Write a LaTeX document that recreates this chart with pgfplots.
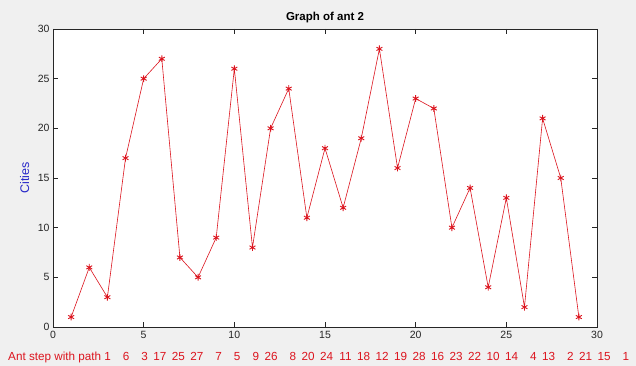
\documentclass[border=0pt]{standalone}
\usepackage{pgfplots}
\pgfplotsset{compat=1.18}
\usepackage{fontspec}
\setmainfont{Liberation Sans}
\definecolor{bggray}{RGB}{240,240,240}
\definecolor{axgray}{RGB}{38,38,38}
\definecolor{lred}{RGB}{220,20,30}
\definecolor{lblue}{RGB}{40,40,200}
\newcommand{\f}[1]{\hspace{0.47em}\makebox[1.112em][r]{#1}}
\begin{document}
\begin{tikzpicture}
\useasboundingbox (0pt,0pt) rectangle (636pt,366pt);
\fill[bggray] (0pt,0pt) rectangle (636pt,366pt);
\begin{axis}[
  at={(53pt,39pt)}, anchor=south west,
  scale only axis, width=544pt, height=298pt,
  xmin=0, xmax=30, ymin=0, ymax=30,
  xtick={0,5,...,30}, ytick={0,5,...,30},
  tick align=inside, major tick length=5pt,
  axis line style={axgray, line width=0.6pt},
  every tick/.style={axgray, line width=0.6pt},
  axis background/.style={fill=white},
  tick label style={font=\fontsize{10.5}{12}\selectfont, text=axgray},
  /pgf/number format/assume math mode=true,
  title={\bfseries Graph of ant 2},
  title style={font=\fontsize{11.5}{13}\selectfont\bfseries, at={(axis description cs:0.5,1)}, anchor=south, yshift=-3pt},
  ylabel={Cities},
  ylabel style={font=\fontsize{12.5}{14}\selectfont, text=lblue, at={(axis description cs:-0.037,0.5)}, anchor=south},
  xlabel={Ant step with path 1\f{6}\f{3}\f{17}\f{25}\f{27}\f{7}\f{5}\f{9}\f{26}\f{8}\f{20}\f{24}\f{11}\f{18}\f{12}\f{19}\f{28}\f{16}\f{23}\f{22}\f{10}\f{14}\f{4}\f{13}\f{2}\f{21}\f{15}\f{1}},
  xlabel style={font=\fontsize{11.7}{13}\selectfont, text=lred, at={(axis description cs:-0.0827,-0.114)}, anchor=base west, inner sep=0pt},
  xticklabel style={yshift=-1pt},
]
\addplot[lred, line width=0.6pt, mark=asterisk, mark size=3.4pt, mark options={line width=0.9pt}] coordinates {
(1,1) (2,6) (3,3) (4,17) (5,25) (6,27) (7,7) (8,5) (9,9) (10,26)
(11,8) (12,20) (13,24) (14,11) (15,18) (16,12) (17,19) (18,28) (19,16) (20,23)
(21,22) (22,10) (23,14) (24,4) (25,13) (26,2) (27,21) (28,15) (29,1)
};
\end{axis}
\end{tikzpicture}
\end{document}
